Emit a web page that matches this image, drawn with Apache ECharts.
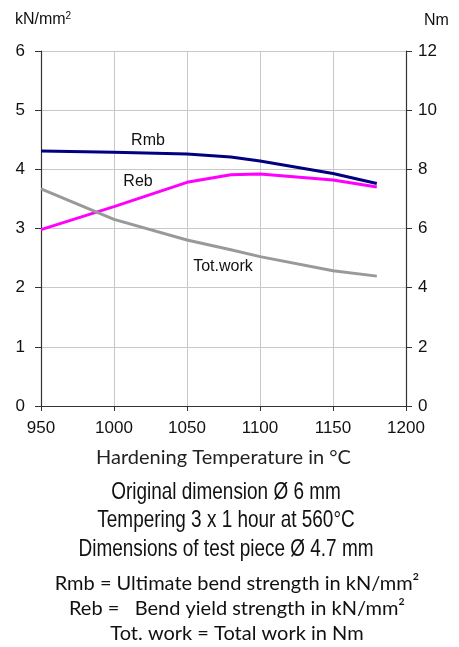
<!DOCTYPE html>
<html>
<head>
<meta charset="utf-8">
<script src="https://cdn.jsdelivr.net/npm/echarts@6/dist/echarts.min.js"></script>
<style>
  html, body { margin: 0; padding: 0; background: #fff; }
  #chart { width: 459px; height: 647px; }
</style>
</head>
<body>
<div id="chart"></div>
<script>
// hardening temperature, degC
const temps = [950, 1000, 1050, 1080, 1100, 1150, 1180]
// kN/mm2 (left axis)
const rmb = [4.31, 4.29, 4.26, 4.21, 4.14, 3.93, 3.76]
const reb = [2.98, 3.37, 3.78, 3.91, 3.92, 3.82, 3.70]
// Nm (right axis)
const totWork = [7.34, 6.31, 5.61, 5.28, 5.05, 4.57, 4.39]

const infoLines = [
  'Original dimension Ø 6 mm',
  'Tempering 3 x 1 hour at 560°C',
  'Dimensions of test piece Ø 4.7 mm'
]
const legendLines = [
  'Rmb = Ultimate bend strength in kN/mm²',
  'Reb =   Bend yield strength in kN/mm²',
  'Tot. work = Total work in Nm'
]

const tickFont = { fontFamily: 'Liberation Sans', fontSize: 17, color: '#111' }

// put a text label on one point of a line
function pairs(values, labelAt, text, offset) {
  return values.map((v, i) => {
    const item = { value: [temps[i], v] }
    if (i === labelAt) {
      item.label = {
        show: true, position: 'inside', offset, formatter: text,
        fontFamily: 'Liberation Sans', fontSize: 16, color: '#111'
      }
    }
    return item
  })
}

const chart = echarts.init(document.getElementById('chart'))
chart.setOption({
  animation: false,
  backgroundColor: '#fff',
  grid: { left: 41, right: 53, top: 51, bottom: 241 },
  xAxis: {
    type: 'value', min: 950, max: 1200, interval: 50,
    name: 'Hardening Temperature in °C',
    nameLocation: 'middle', nameGap: 42,
    nameTextStyle: { fontFamily: 'Lato', fontSize: 20, color: '#222' },
    axisLine: { lineStyle: { color: '#333', width: 1.2 } },
    axisTick: { length: 5, lineStyle: { color: '#333' } },
    axisLabel: { ...tickFont, margin: 14, formatter: v => String(v) },
    splitLine: { lineStyle: { color: '#c8c8c8', width: 1 } }
  },
  yAxis: [
    {
      type: 'value', min: 0, max: 6, interval: 1,
      name: 'kN/mm{s|2}', nameLocation: 'end', nameGap: 22,
      nameTextStyle: {
        fontFamily: 'Liberation Sans', fontSize: 16, color: '#111', align: 'center', padding: [0, 0, 0, 4],
        rich: { s: { fontFamily: 'Liberation Sans', fontSize: 10, color: '#111', verticalAlign: 'top', padding: [0, 0, 8, 0] } }
      },
      axisLine: { show: true, lineStyle: { color: '#333', width: 1.2 } },
      axisTick: { show: true, length: 6, lineStyle: { color: '#333' } },
      axisLabel: { ...tickFont, margin: 16 },
      splitLine: { lineStyle: { color: '#c8c8c8', width: 1 } }
    },
    {
      type: 'value', min: 0, max: 12, interval: 2, position: 'right',
      name: 'Nm', nameLocation: 'end', nameGap: 22,
      nameTextStyle: { fontFamily: 'Liberation Sans', fontSize: 16, color: '#111', align: 'left', padding: [0, 0, 0, 18] },
      axisLine: { show: true, lineStyle: { color: '#333', width: 1.2 } },
      axisTick: { show: true, length: 6, lineStyle: { color: '#333' } },
      axisLabel: { ...tickFont, margin: 12 },
      splitLine: { show: false }
    }
  ],
  series: [
    {
      name: 'Rmb', type: 'line', yAxisIndex: 0,
      data: pairs(rmb, 1, 'Rmb', [34, -12]),
      showSymbol: true, symbolSize: 0,
      lineStyle: { color: '#000080', width: 3 }, itemStyle: { color: '#000080' }
    },
    {
      name: 'Reb', type: 'line', yAxisIndex: 0,
      data: pairs(reb, 1, 'Reb', [24, -25]),
      showSymbol: true, symbolSize: 0,
      lineStyle: { color: '#ff00ff', width: 3 }, itemStyle: { color: '#ff00ff' }
    },
    {
      name: 'Tot.work', type: 'line', yAxisIndex: 1,
      data: pairs(totWork, 2, 'Tot.work', [36, 27]),
      showSymbol: true, symbolSize: 0,
      lineStyle: { color: '#999999', width: 3 }, itemStyle: { color: '#999999' }
    }
  ],
  graphic: [
    // condensed caption lines: squeeze a plain sans horizontally
    ...infoLines.map((t, i) => ({
      type: 'text', x: 226, y: 492 + i * 28.5, scaleX: 0.79,
      style: {
        text: t, x: 0, y: 0, align: 'center', verticalAlign: 'middle',
        fontFamily: 'Liberation Sans', fontSize: 24, fill: '#111'
      }
    })),
    ...legendLines.map((t, i) => ({
      type: 'text', x: 237, y: 584 + i * 25,
      style: {
        text: t, x: 0, y: 0, align: 'center', verticalAlign: 'middle',
        fontFamily: 'Lato', fontSize: 20, fill: '#111'
      }
    }))
  ]
})
</script>
</body>
</html>
